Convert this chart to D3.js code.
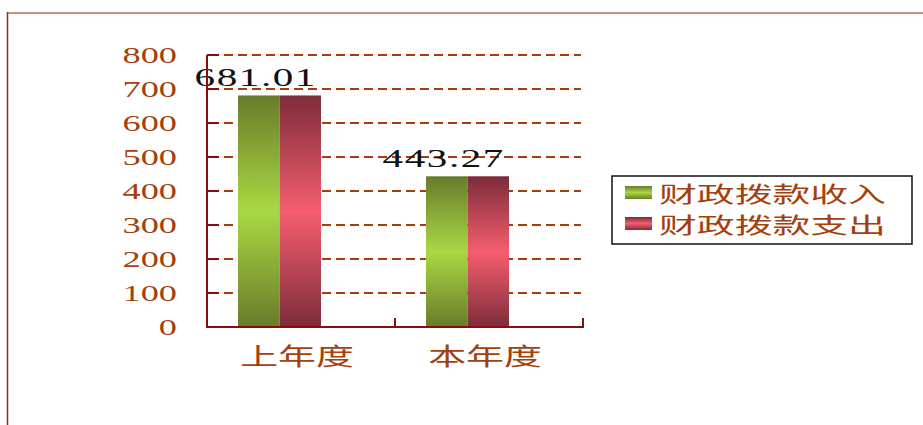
<!DOCTYPE html>
<html>
<head>
<meta charset="utf-8">
<script src="https://cdn.jsdelivr.net/npm/d3@7"></script>
<style>
  body { margin: 0; background: #fff; }
  svg { display: block; }
  .tick-label { font-family: "Liberation Serif", serif; fill: #a5400c; }
  .cat-label, .legend-label { font-family: "Noto Sans CJK SC", sans-serif; fill: #a5400c; }
  .value-label { font-family: "Liberation Serif", serif; fill: #111; }
</style>
</head>
<body>
<svg id="chart" width="923" height="425"></svg>
<script>
const categories = ["上年度", "本年度"];
const seriesNames = ["财政拨款收入", "财政拨款支出"];
const incomeValues = [681.01, 443.27];
const spendValues = [681.01, 443.27];
const yTicks = [0, 100, 200, 300, 400, 500, 600, 700, 800];

const svg = d3.select("#chart");
const stretch = 1.58; // text in the picture is widened

// outer frame
svg.append("line").attr("x1", 7).attr("x2", 923).attr("y1", 13).attr("y2", 13)
  .attr("stroke", "#c9917a").attr("stroke-width", 2);
svg.append("line").attr("x1", 7.5).attr("x2", 7.5).attr("y1", 12).attr("y2", 425)
  .attr("stroke", "#8e2f0c").attr("stroke-width", 1.5);

const plotLeft = 207, plotRight = 583, plotTop = 55, plotBottom = 327;

const x0 = d3.scaleBand().domain(categories).range([plotLeft, plotRight]).padding(0);
const x1 = d3.scaleBand().domain(seriesNames).range([0, 83]).padding(0);
const barOffset = 31;
const y = d3.scaleLinear().domain([0, 800]).range([plotBottom, plotTop]);

const defs = svg.append("defs");
const grads = [
  { id: "gGreen", dark: "#697b2a", light: "#a9d844" },
  { id: "gRed", dark: "#7d2c3b", light: "#f55e6e" }
];
grads.forEach((g) => {
  const lg = defs.append("linearGradient").attr("id", g.id)
    .attr("x1", 0).attr("x2", 0).attr("y1", 0).attr("y2", 1);
  lg.append("stop").attr("offset", "0%").attr("stop-color", g.dark);
  lg.append("stop").attr("offset", "50%").attr("stop-color", g.light);
  lg.append("stop").attr("offset", "100%").attr("stop-color", g.dark);
});

// grid
svg.append("g")
  .selectAll("line")
  .data(yTicks.filter((d) => d > 0))
  .enter()
  .append("line")
  .attr("x1", plotLeft + 3).attr("x2", plotRight - 2)
  .attr("y1", (d) => y(d)).attr("y2", (d) => y(d))
  .attr("stroke", "#a63d0c").attr("stroke-width", 2.2)
  .attr("stroke-dasharray", "9,5");

// bars
const groups = svg.append("g").selectAll("g").data(categories).enter().append("g")
  .attr("transform", (c) => `translate(${x0(c) + barOffset},0)`);

const rows = categories.map((c, i) => [
  { s: seriesNames[0], v: incomeValues[i], fill: "url(#gGreen)" },
  { s: seriesNames[1], v: spendValues[i], fill: "url(#gRed)" }
]);

groups.selectAll("rect")
  .data((c, i) => rows[i])
  .enter()
  .append("rect")
  .attr("x", (d) => x1(d.s))
  .attr("y", (d) => y(d.v))
  .attr("width", x1.bandwidth())
  .attr("height", (d) => plotBottom - y(d.v))
  .attr("fill", (d) => d.fill);

// value labels over first bar
groups.append("text")
  .attr("class", "value-label")
  .attr("text-anchor", "middle")
  .attr("font-size", 26)
  .attr("letter-spacing", 1)
  .attr("transform", (c, i) => `translate(${x1(seriesNames[0]) + x1.bandwidth() / 2 - 3},${y(incomeValues[i]) - 9}) scale(${stretch},1)`)
  .text((c, i) => incomeValues[i].toFixed(2));

// axes
const axisColor = "#8a0c0c";
svg.append("line").attr("x1", plotLeft).attr("x2", plotLeft).attr("y1", plotTop).attr("y2", plotBottom + 1)
  .attr("stroke", axisColor).attr("stroke-width", 2);
svg.append("line").attr("x1", plotLeft - 1).attr("x2", plotRight + 1).attr("y1", plotBottom).attr("y2", plotBottom)
  .attr("stroke", axisColor).attr("stroke-width", 2);
svg.append("g").selectAll("line").data(yTicks).enter().append("line")
  .attr("x1", plotLeft).attr("x2", plotLeft + 12)
  .attr("y1", (d) => y(d)).attr("y2", (d) => y(d))
  .attr("stroke", axisColor).attr("stroke-width", 2);
svg.append("g").selectAll("line").data(categories).enter().append("line")
  .attr("x1", (c) => x0(c) + x0.bandwidth()).attr("x2", (c) => x0(c) + x0.bandwidth())
  .attr("y1", plotBottom - 9).attr("y2", plotBottom)
  .attr("stroke", axisColor).attr("stroke-width", 2);

// y tick labels
svg.append("g").selectAll("text").data(yTicks).enter().append("text")
  .attr("class", "tick-label")
  .attr("text-anchor", "end")
  .attr("font-size", 23)
  .attr("transform", (d) => `translate(177,${y(d) + 8}) scale(${stretch},1)`)
  .text((d) => d);

// category labels
svg.append("g").selectAll("text").data(categories).enter().append("text")
  .attr("class", "cat-label")
  .attr("text-anchor", "middle")
  .attr("font-size", 24)
  .attr("transform", (c) => `translate(${x0(c) + x0.bandwidth() / 2 - 4},${plotBottom + 38}) scale(${stretch},1)`)
  .text((c) => c);

// legend
const legend = svg.append("g").attr("transform", "translate(612,176)");
legend.append("rect").attr("x", 0).attr("y", 0).attr("width", 300).attr("height", 68)
  .attr("fill", "#fff").attr("stroke", "#111").attr("stroke-width", 1.5);
const items = legend.selectAll("g.item").data(seriesNames).enter().append("g")
  .attr("class", "item")
  .attr("transform", (d, i) => `translate(0,${10 + i * 31})`);
items.append("rect").attr("x", 13).attr("y", 0).attr("width", 27).attr("height", 13)
  .attr("fill", (d, i) => `url(#${grads[i].id})`);
items.append("text")
  .attr("class", "legend-label")
  .attr("font-size", 22)
  .attr("transform", `translate(47,16) scale(1.72,1)`)
  .text((d) => d);
</script>
</body>
</html>
